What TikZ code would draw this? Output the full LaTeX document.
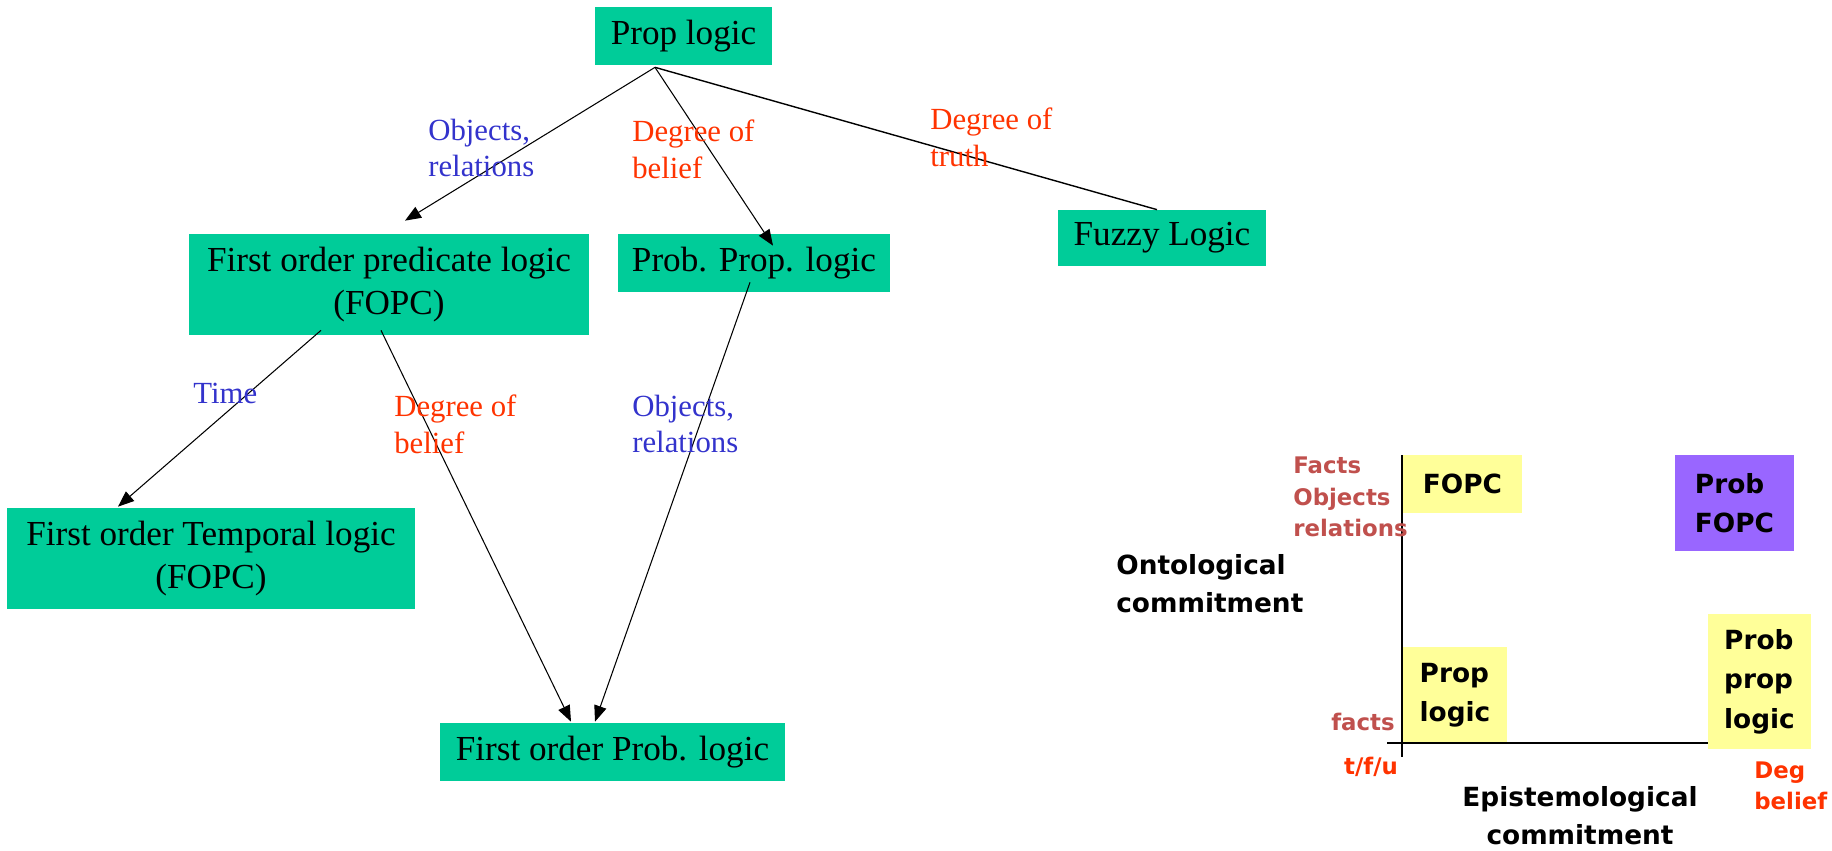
\documentclass[tikz,border=0pt]{standalone}
\usepackage{fontspec}
\setmainfont{Liberation Serif}
\newfontfamily\comicfont{DejaVu Sans}
\definecolor{logicGreen}{RGB}{0,204,153}
\definecolor{logicBlue}{RGB}{51,51,204}
\definecolor{logicRed}{RGB}{255,51,0}
\definecolor{noteYellow}{RGB}{255,255,153}
\definecolor{notePurple}{RGB}{153,102,255}
\definecolor{axisBrown}{RGB}{192,80,77}
\usetikzlibrary{arrows.meta,positioning,calc}
\newcommand{\commitfont}{\comicfont\bfseries}

\tikzset{
  logicbox/.style={rectangle, fill=logicGreen, inner sep=0pt, align=center,
    font=\fontsize{20}{24}\selectfont},
  bluelabel/.style={anchor=west, align=left, text=logicBlue, inner sep=0pt,
    font=\fontsize{17.5}{21}\selectfont},
  redlabel/.style={bluelabel, text=logicRed},
  link/.style={-{Triangle[length=0.32cm,width=0.25cm]}, line width=0.6pt},
  notebox/.style={rectangle, fill=noteYellow, inner sep=0pt, align=left,
    font=\commitfont\fontsize{15}{22.4}\selectfont},
  axislabel/.style={inner sep=0pt, align=left, text=axisBrown,
    font=\commitfont\fontsize{13}{18}\selectfont},
  axistitle/.style={inner sep=0pt, font=\commitfont\fontsize{15}{21.5}\selectfont}
}

\begin{document}
\begin{tikzpicture}[x=0.02cm, y=-0.02cm]
  \useasboundingbox (0,0) rectangle (1832,851);

  \node[logicbox, minimum width=3.54cm, minimum height=1.16cm] (prop) at (683.5,36) {Prop logic};
  \node[logicbox, minimum width=8cm, minimum height=2.02cm] (fopc) at (389,284.5)
    {First order predicate logic\\(FOPC)};
  \node[logicbox, minimum width=5.44cm, minimum height=1.16cm] (probprop) at (754,263) {Prob. Prop. logic};
  \node[logicbox, minimum width=4.16cm, minimum height=1.12cm] (fuzzy) at (1162,238) {Fuzzy Logic};
  \node[logicbox, minimum width=8.16cm, minimum height=2.02cm] (temporal) at (211,558.5)
    {First order Temporal logic\\(FOPC)};
  \node[logicbox, minimum width=6.9cm, minimum height=1.16cm] (foprob) at (612.5,752) {First order Prob. logic};

  \draw[link] ($(prop.south)+(-28.5,2)$) -- ($(fopc.north)+(16,-13)$);
  \draw[link] ($(prop.south)+(-28.5,2)$) -- ($(probprop.north)+(19,12)$);
  \draw[line width=0.8pt] ($(prop.south)+(-28.5,2)$) -- ($(fuzzy.north)+(-5,0)$);
  \draw[link] ($(fopc.south)+(-68,-5)$) -- ($(temporal.north)+(-93,-1)$);
  \draw[link] ($(fopc.south)+(-8,-5)$) -- ($(foprob.north)+(-41.5,-1)$);
  \draw[link] ($(probprop.south)+(-4,-10)$) -- ($(foprob.north)+(-17.5,-1)$);

  \node[bluelabel] (objtop) at (428,148) {Objects,\\relations};
  \node[redlabel] (beltop) at (632,149) {Degree of\\belief};
  \node[redlabel] (truth) at (930,137) {Degree of\\truth};
  \node[bluelabel] (time) at (193,393) {Time};
  \node[redlabel] (belbot) at (394,424) {Degree of\\belief};
  \node[bluelabel] (objbot) at (632,424) {Objects,\\relations};

  \coordinate (ytop) at (1402,455);
  \coordinate (ybot) at (1402,757);
  \coordinate (xleft) at (1387,743);
  \node[notebox, minimum width=2.38cm, minimum height=1.16cm] (ffopc) at (1462.5,484) {FOPC};
  \node[notebox, fill=notePurple, minimum width=2.38cm, minimum height=1.92cm] (pfopc) at (1734.5,503) {Prob\\FOPC};
  \node[notebox, minimum width=2.08cm, minimum height=1.92cm] (pprop) at (1455,695) {Prop\\logic};
  \node[notebox, minimum width=2.06cm, minimum height=2.7cm] (ppl) at (1759.5,681.5) {Prob\\prop\\logic};
  \draw[line width=1.1pt] (ytop) -- (ybot);
  \draw[line width=1.1pt] (xleft) -- (xleft -| ppl.west);

  \node[axislabel, anchor=west] (ontfacts) at (1293,497) {Facts\\Objects\\relations};
  \node[axislabel, anchor=east] (facts) at (1395,722) {facts};
  \node[axislabel, text=logicRed] (tfu) at (1371,767) {t/f/u};
  \node[axislabel, text=logicRed, anchor=west] (degbel) at (1754,786) {Deg\\belief};
  \node[axistitle, align=center] (episte) at (1580,816) {Epistemological\\commitment};
  \node[axistitle, align=left, anchor=west] (onto) at (1116,584) {Ontological\\commitment};
\end{tikzpicture}
\end{document}
